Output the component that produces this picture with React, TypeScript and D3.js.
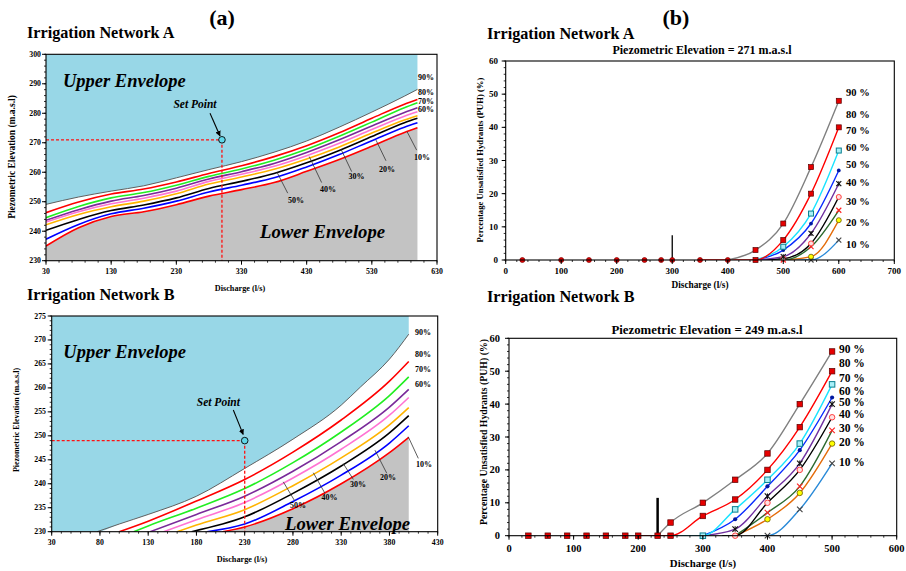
import React from "react";
import * as d3 from "d3";

type Pt = [number, number];

const FONT = "'Liberation Serif','Times New Roman',serif";
const PCT = ["90", "80", "70", "60", "50", "40", "30", "20", "10"];

// ---------- (a) Network A : piezometric elevation vs discharge ----------
const aQ = [30, 80, 130, 180, 230, 280, 330, 380, 430, 480, 530, 580, 600];
const aH90 = [249.1, 251.6, 253.6, 255.4, 258.1, 260.9, 263.6, 266.8, 270.6, 275.3, 280.4, 285.8, 288.1];
const aH80 = [246.3, 249.9, 252.6, 254.3, 256.7, 259.6, 262.2, 265.3, 269.0, 273.4, 278.3, 283.1, 284.7];
const aH70 = [244.6, 248.4, 251.3, 253.1, 255.6, 258.6, 261.1, 264.1, 267.8, 272.2, 277.0, 281.9, 283.6];
const aH60 = [243.7, 247.3, 250.2, 252.1, 254.6, 257.7, 260.2, 263.0, 266.7, 271.0, 275.7, 280.3, 281.9];
const aH50 = [243.1, 246.6, 249.3, 251.2, 253.6, 256.9, 259.3, 262.0, 265.6, 269.8, 274.5, 279.0, 280.5];
const aH40 = [242.2, 245.7, 248.3, 250.2, 252.7, 256.0, 258.4, 261.0, 264.5, 268.6, 273.3, 277.7, 279.2];
const aH30 = [240.3, 244.0, 247.0, 248.9, 251.3, 254.5, 256.9, 259.6, 263.2, 267.4, 272.1, 276.8, 278.3];
const aH20 = [237.3, 242.3, 245.9, 247.8, 250.2, 253.3, 255.6, 258.1, 261.8, 266.0, 270.7, 275.3, 276.8];
const aH10 = [235.0, 241.2, 245.0, 246.6, 249.0, 251.9, 254.1, 256.5, 260.3, 264.3, 268.8, 273.5, 275.1];
const aSetPoint: Pt = [300, 271];

// ---------- (a) Network B ----------
const bH90: Pt[] = [[77, 230], [100, 231.6], [130, 233.6], [180, 237.4], [230, 243.2], [280, 249.3], [330, 256.4], [350, 260.2], [380, 266.0], [400, 271.2]];
const bH80: Pt[] = [[100, 230], [130, 232.2], [180, 236.4], [230, 240.9], [280, 246.6], [330, 253.3], [380, 261.4], [400, 265.5]];
const bH70: Pt[] = [[115, 230], [130, 231.2], [180, 234.9], [230, 239.0], [280, 244.4], [330, 250.8], [380, 258.4], [400, 262.3]];
const bH60: Pt[] = [[132, 230], [180, 233.6], [230, 237.4], [280, 242.6], [330, 248.8], [380, 256.0], [400, 259.7]];
const bH50: Pt[] = [[146, 230], [180, 232.5], [230, 236.1], [280, 241.2], [330, 247.2], [380, 254.3], [400, 258.0]];
const bH40: Pt[] = [[160, 230], [180, 231.4], [230, 234.6], [280, 239.6], [330, 245.4], [380, 252.3], [400, 255.9]];
const bH30: Pt[] = [[175, 230], [230, 233.1], [280, 238.0], [330, 243.7], [380, 250.6], [400, 254.2]];
const bH20: Pt[] = [[191, 230], [230, 231.6], [280, 236.3], [330, 241.8], [380, 248.5], [400, 252.1]];
const bH10: Pt[] = [[207, 230], [230, 231.0], [280, 234.8], [330, 240.0], [380, 246.5], [400, 249.7]];
const bSetPoint: Pt = [230, 249];

// ---------- (b) PUH curves, Network A (first point = start on zero line) ----------
const puhA90: Pt[] = [[400, 0], [450, 3], [500, 11], [550, 28], [600, 48]];
const puhA80: Pt[] = [[350, 0], [450, 0], [500, 6], [550, 20], [600, 40]];
const puhA70: Pt[] = [[450, 0], [500, 4], [550, 14], [600, 33]];
const puhA60: Pt[] = [[450, 0], [500, 3], [550, 11], [600, 27]];
const puhA50: Pt[] = [[450, 0], [500, 1], [550, 8], [600, 23]];
const puhA40: Pt[] = [[450, 0], [500, 0.4], [550, 5], [600, 19]];
const puhA30: Pt[] = [[450, 0], [500, 0], [550, 4], [600, 15]];
const puhA20: Pt[] = [[500, 0], [550, 1], [600, 12]];
const puhA10: Pt[] = [[500, 0], [550, 0], [600, 6]];
const zeroA = [30, 100, 150, 200, 250, 280, 300, 350, 400];
const barA: Pt = [300, 7.5];

// ---------- (b) PUH curves, Network B ----------
const puhB90: Pt[] = [[230, 0], [250, 4], [300, 10], [350, 17], [400, 25], [450, 40], [500, 56]];
const puhB80: Pt[] = [[200, 0], [250, 0], [300, 6], [350, 11], [400, 20], [450, 33], [500, 50]];
const puhB70: Pt[] = [[250, 0], [300, 0], [350, 8], [400, 17], [450, 28], [500, 46]];
const puhB60: Pt[] = [[300, 0], [350, 5], [400, 15], [450, 26], [500, 42]];
const puhB50: Pt[] = [[300, 0], [350, 2], [400, 12], [450, 22], [500, 40]];
const puhB40: Pt[] = [[330, 0], [350, 0], [400, 10], [450, 20], [500, 36]];
const puhB30: Pt[] = [[350, 0], [400, 7], [450, 15], [500, 32]];
const puhB20: Pt[] = [[350, 0], [400, 5], [450, 13], [500, 28]];
const puhB10: Pt[] = [[390, 0], [400, 0], [450, 8], [500, 22]];
const zeroB = [30, 60, 90, 120, 150, 180, 200, 230];
const barB: Pt = [230, 11.5];

// ---------- ticks ----------
const aXTicks = [30, 130, 230, 330, 430, 530, 630];
const aYTicks = [230, 240, 250, 260, 270, 280, 290, 300];
const bXTicks = [30, 80, 130, 180, 230, 280, 330, 380, 430];
const bYTicks = [230, 235, 240, 245, 250, 255, 260, 265, 270, 275];
const rAXTicks = [0, 100, 200, 300, 400, 500, 600, 700];
const rBXTicks = [0, 100, 200, 300, 400, 500, 600];
const rYTicks = [0, 10, 20, 30, 40, 50, 60];

const BLUE = "#98d7e7";
const GRAY = "#c3c3c3";
const ENV_COLORS = ["#5f5f5f", "#ff0000", "#22ee22", "#7a2a9a", "#ff74d4", "#ffb400", "#000000", "#0000ff", "#ff0000"];
const PUH_STYLE = [
  { c: "#808080", m: "sqRed" },
  { c: "#ff0000", m: "sqRed" },
  { c: "#19e3ff", m: "sqCyan" },
  { c: "#0a2cff", m: "dotBlue" },
  { c: "#7030a0", m: "xBlack" },
  { c: "#000000", m: "circPink" },
  { c: "#2e6b30", m: "xRed" },
  { c: "#e46c0a", m: "circYellow" },
  { c: "#2a8ad8", m: "xDark" },
];

function Axes(p: any) {
  const { x, y, xMajor, xMinorStep, yMajor, yMinorStep, fs, xLabBase, yLabRight } = p;
  const [x0, x1] = x.range();
  const [yb, yt] = y.range();
  const [dx0, dx1] = x.domain();
  const [dy0, dy1] = y.domain();
  const xMinor = d3.range(dx0, dx1 + 1e-9, xMinorStep);
  const yMinor = d3.range(dy0, dy1 + 1e-9, yMinorStep);
  return (
    <g fontFamily={FONT} fontWeight="bold" fontSize={fs} fill="#000">
      <rect x={x0} y={yt} width={x1 - x0} height={yb - yt} fill="none" stroke="#000" strokeWidth={1.1} />
      {xMinor.map((v: number) => (
        <line key={"xm" + v} x1={x(v)} x2={x(v)} y1={yb} y2={yb + 2} stroke="#000" strokeWidth={0.8} />
      ))}
      {yMinor.map((v: number) => (
        <line key={"ym" + v} x1={x0 - 2} x2={x0} y1={y(v)} y2={y(v)} stroke="#000" strokeWidth={0.8} />
      ))}
      {xMajor.map((v: number) => (
        <g key={"x" + v}>
          <line x1={x(v)} x2={x(v)} y1={yb} y2={yb + 4} stroke="#000" strokeWidth={1} />
          <text x={x(v)} y={xLabBase} textAnchor="middle">{v}</text>
        </g>
      ))}
      {yMajor.map((v: number) => (
        <g key={"y" + v}>
          <line x1={x0 - 4} x2={x0} y1={y(v)} y2={y(v)} stroke="#000" strokeWidth={1} />
          <text x={yLabRight} y={y(v)} textAnchor="end" dominantBaseline="central">{v}</text>
        </g>
      ))}
    </g>
  );
}

function EnvPanel(p: any) {
  const { id, x, y, curves, upperFill, setPt, ann, lblFs } = p;
  const [x0, x1] = x.range();
  const [yb, yt] = y.range();
  const line = d3.line<Pt>().x((d) => x(d[0])).y((d) => y(d[1])).curve(d3.curveMonotoneX);
  const areaUp = d3.area<Pt>().x((d) => x(d[0])).y0(yt).y1((d) => y(d[1])).curve(d3.curveMonotoneX);
  const areaLo = d3.area<Pt>().x((d) => x(d[0])).y0(yb).y1((d) => y(d[1])).curve(d3.curveMonotoneX);
  const [dx0] = x.domain();
  const [dy0] = y.domain();
  return (
    <g>
      <defs>
        <clipPath id={id}>
          <rect x={x0} y={yt} width={x1 - x0} height={yb - yt} />
        </clipPath>
      </defs>
      <g clipPath={`url(#${id})`}>
        <path d={areaUp(upperFill) || ""} fill={BLUE} />
        <path d={areaLo(curves[8]) || ""} fill={GRAY} />
        {curves.map((c: Pt[], i: number) => (
          <path key={i} d={line(c) || ""} fill="none" stroke={ENV_COLORS[i]} strokeWidth={i === 0 ? 1 : 1.6} />
        ))}
        <line x1={x(dx0)} x2={x(setPt[0])} y1={y(setPt[1])} y2={y(setPt[1])} stroke="#ff1010" strokeWidth={1.3} strokeDasharray="3,2" />
        <line x1={x(setPt[0])} x2={x(setPt[0])} y1={y(setPt[1])} y2={y(dy0)} stroke="#ff1010" strokeWidth={1.3} strokeDasharray="3,2" />
      </g>
      <circle cx={x(setPt[0])} cy={y(setPt[1])} r={3.3} fill="#5fd8ea" stroke="#000" strokeWidth={0.9} />
      <line x1={x(ann.arrow[0][0])} y1={y(ann.arrow[0][1])} x2={x(ann.arrow[1][0])} y2={y(ann.arrow[1][1])} stroke="#000" strokeWidth={1.1} markerEnd="url(#arrowHead)" />
      <g fontFamily={FONT} fontWeight="bold" fontStyle="italic" fill="#000">
        <text x={x(ann.setLbl[0])} y={y(ann.setLbl[1])} textAnchor="middle" fontSize={11.5}>Set Point</text>
        <text x={x(ann.upper[0])} y={y(ann.upper[1])} fontSize={18.5}>Upper Envelope</text>
        <text x={x(ann.lower[0])} y={y(ann.lower[1])} fontSize={18.7}>Lower Envelope</text>
      </g>
      <g fontFamily={FONT} fontWeight="bold" fontSize={lblFs} fill="#000">
        {ann.top.map((t: Pt, i: number) => (
          <text key={"t" + i} x={x(t[0])} y={y(t[1])} dominantBaseline="central">{PCT[i] + "%"}</text>
        ))}
        {ann.lead.map((l: any, i: number) => (
          <g key={"l" + i}>
            <line x1={x(l[0][0])} y1={y(l[0][1])} x2={x(l[1][0])} y2={y(l[1][1])} stroke="#333" strokeWidth={0.8} />
            <text x={x(l[2][0])} y={y(l[2][1])} textAnchor="middle" dominantBaseline="central">{PCT[8 - i] + "%"}</text>
          </g>
        ))}
      </g>
    </g>
  );
}

function Marker({ t, cx, cy, s }: any) {
  const h = s / 2;
  switch (t) {
    case "sqRed":
      return <rect x={cx - h} y={cy - h} width={s} height={s} fill="#e60000" stroke="#5a0000" strokeWidth={0.7} />;
    case "sqCyan":
      return <rect x={cx - h} y={cy - h} width={s} height={s} fill="#a8f0f8" stroke="#0a7f8f" strokeWidth={1} />;
    case "dotBlue":
      return <circle cx={cx} cy={cy} r={h * 0.75} fill="#0018a0" />;
    case "circPink":
      return <circle cx={cx} cy={cy} r={h} fill="#ffe0e0" stroke="#ff4040" strokeWidth={1} />;
    case "circYellow":
      return <circle cx={cx} cy={cy} r={h} fill="#ffff00" stroke="#6a5a00" strokeWidth={0.8} />;
    case "circRed":
      return <circle cx={cx} cy={cy} r={h} fill="#e60000" stroke="#7a0000" strokeWidth={0.7} />;
    default: {
      const col = t === "xRed" ? "#ff2020" : t === "xBlack" ? "#111" : "#444";
      return (
        <g stroke={col} strokeWidth={1.1}>
          <line x1={cx - h} y1={cy - h} x2={cx + h} y2={cy + h} />
          <line x1={cx - h} y1={cy + h} x2={cx + h} y2={cy - h} />
          {t === "xBlack" && <line x1={cx} y1={cy - h} x2={cx} y2={cy + h} />}
        </g>
      );
    }
  }
}

function PuhPanel(p: any) {
  const { id, x, y, series, zeros, zeroMk, bar, barW, mk, lblFs, lblX, lblY } = p;
  const [x0, x1] = x.range();
  const [yb, yt] = y.range();
  const line = d3.line<Pt>().x((d) => x(d[0])).y((d) => y(d[1])).curve(d3.curveMonotoneX);
  const order = [8, 7, 6, 5, 4, 3, 2, 1, 0];
  return (
    <g>
      <defs>
        <clipPath id={id}>
          <rect x={x0} y={yt} width={x1 - x0} height={yb - yt} />
        </clipPath>
      </defs>
      <line x1={x(bar[0])} x2={x(bar[0])} y1={y(0)} y2={y(bar[1])} stroke="#000" strokeWidth={barW} />
      <g clipPath={`url(#${id})`}>
        {order.map((i) => (
          <path key={"s" + i} d={line(series[i]) || ""} fill="none" stroke={PUH_STYLE[i].c} strokeWidth={1.4} />
        ))}
      </g>
      {zeros.map((q: number) => (
        <Marker key={"z" + q} t={zeroMk} cx={x(q)} cy={y(0)} s={mk} />
      ))}
      {order.map((i) =>
        series[i].slice(1).map((d: Pt, j: number) => (
          <Marker key={"m" + i + "-" + j} t={PUH_STYLE[i].m} cx={x(d[0])} cy={y(d[1])} s={mk} />
        ))
      )}
      <g fontFamily={FONT} fontWeight="bold" fontSize={lblFs} fill="#000">
        {lblY.map((v: number, i: number) => (
          <text key={"p" + i} x={x(lblX)} y={y(v)} dominantBaseline="central">{PCT[i] + " %"}</text>
        ))}
      </g>
    </g>
  );
}

export default function App() {
  const xa = d3.scaleLinear().domain([30, 630]).range([46, 437]);
  const ya = d3.scaleLinear().domain([230, 300]).range([260.7, 54.3]);
  const xb = d3.scaleLinear().domain([30, 430]).range([51.7, 437.7]);
  const yb = d3.scaleLinear().domain([230, 275]).range([531.7, 316]);
  const xra = d3.scaleLinear().domain([0, 700]).range([505.7, 894.3]);
  const yra = d3.scaleLinear().domain([0, 60]).range([260, 61]);
  const xrb = d3.scaleLinear().domain([0, 600]).range([509, 896.7]);
  const yrb = d3.scaleLinear().domain([0, 60]).range([535.7, 338.3]);

  const aCurves: Pt[][] = [aH90, aH80, aH70, aH60, aH50, aH40, aH30, aH20, aH10].map((h) =>
    h.map((v, i) => [aQ[i], v] as Pt)
  );
  const bCurves: Pt[][] = [bH90, bH80, bH70, bH60, bH50, bH40, bH30, bH20, bH10];
  const bUpperFill: Pt[] = [[30, 230], ...bH90];

  const annA = {
    arrow: [[281.7, 280.0], [297, 272.3]],
    setLbl: [258.6, 281.8],
    upper: [56, 289],
    lower: [358.4, 237.6],
    top: [[601, 292], [601, 287], [601, 283.9], [601, 281.4]],
    lead: [
      [[584, 273.8], [598.8, 267.5], [607, 264.9]],
      [[536.4, 270.9], [551.7, 263.9], [553.3, 260.8]],
      [[482.7, 267.8], [499.1, 260.2], [506.5, 258.4]],
      [[434, 265.3], [453, 256.5], [462.7, 254.3]],
      [[384.5, 260.0], [400.9, 252.9], [413.6, 250.3]],
    ],
  };
  const annB = {
    arrow: [[218.2, 255.4], [228.4, 250.3]],
    setLbl: [202.7, 256.3],
    upper: [42, 266.2],
    lower: [271.8, 230.4],
    top: [[406.5, 271.5], [406.5, 266.9], [406.5, 263.9], [406.5, 260.8]],
    lead: [
      [[399.5, 249.8], [409.9, 245.3], [415.8, 244.1]],
      [[365, 247.0], [377.2, 242.2], [378.5, 241.4]],
      [[332.2, 244.2], [342.6, 240.9], [347.4, 239.9]],
      [[301.1, 242.3], [313.2, 238.0], [317.9, 237.2]],
      [[270, 240.4], [281.6, 236.5], [285.2, 235.4]],
    ],
  };

  const puhA = [puhA90, puhA80, puhA70, puhA60, puhA50, puhA40, puhA30, puhA20, puhA10];
  const puhB = [puhB90, puhB80, puhB70, puhB60, puhB50, puhB40, puhB30, puhB20, puhB10];

  return (
    <svg width={906} height={571} style={{ position: "absolute", left: 0, top: 0, background: "#fff" }} fontFamily={FONT}>
      <defs>
        <marker id="arrowHead" viewBox="0 0 10 10" refX="9" refY="5" markerWidth="5" markerHeight="5" orient="auto">
          <path d="M0,0 L10,5 L0,10 z" fill="#000" />
        </marker>
      </defs>
      <rect x={0} y={0} width={906} height={571} fill="#fff" />

      <g fontWeight="bold" fill="#000">
        <text x={222} y={25} textAnchor="middle" fontSize={22}>(a)</text>
        <text x={676} y={25} textAnchor="middle" fontSize={22}>(b)</text>
        <text x={27} y={38} fontSize={16.2}>Irrigation Network A</text>
        <text x={487} y={39} fontSize={16.2}>Irrigation Network A</text>
        <text x={27} y={300} fontSize={16.2}>Irrigation Network B</text>
        <text x={487} y={302} fontSize={16.2}>Irrigation Network B</text>
        <text x={702} y={54} textAnchor="middle" fontSize={12}>Piezometric Elevation = 271 m.a.s.l</text>
        <text x={707} y={333.5} textAnchor="middle" fontSize={12.8}>Piezometric Elevation = 249 m.a.s.l</text>
        <text x={240} y={290.5} textAnchor="middle" fontSize={8.2}>Discharge (l/s)</text>
        <text x={242} y={562} textAnchor="middle" fontSize={8.2}>Discharge (l/s)</text>
        <text x={700} y={287.5} textAnchor="middle" fontSize={9.3}>Discharge (l/s)</text>
        <text x={703} y={566.5} textAnchor="middle" fontSize={10.8}>Discharge (l/s)</text>
        <text transform="translate(12,157) rotate(-90)" textAnchor="middle" dominantBaseline="central" fontSize={9.5}>Piezometric Elevation (m.a.s.l)</text>
        <text transform="translate(16.5,420) rotate(-90)" textAnchor="middle" dominantBaseline="central" fontSize={8}>Piezometric Elevation (m.a.s.l)</text>
        <text transform="translate(479.5,160) rotate(-90)" textAnchor="middle" dominantBaseline="central" fontSize={8.7}>Percentage Unsatisfied Hydrants (PUH) (%)</text>
        <text transform="translate(483.5,432) rotate(-90)" textAnchor="middle" dominantBaseline="central" fontSize={9.8}>Percentage Unsatisfied Hydrants (PUH) (%)</text>
      </g>

      <EnvPanel id="clipA" x={xa} y={ya} curves={aCurves} upperFill={aCurves[0]} setPt={aSetPoint} ann={annA} lblFs={8} />
      <Axes x={xa} y={ya} xMajor={aXTicks} xMinorStep={20} yMajor={aYTicks} yMinorStep={2} fs={7.8} xLabBase={273.5} yLabRight={41} />

      <EnvPanel id="clipB" x={xb} y={yb} curves={bCurves} upperFill={bUpperFill} setPt={bSetPoint} ann={annB} lblFs={8} />
      <Axes x={xb} y={yb} xMajor={bXTicks} xMinorStep={10} yMajor={bYTicks} yMinorStep={1} fs={7.8} xLabBase={544.5} yLabRight={46} />

      <PuhPanel id="clipRA" x={xra} y={yra} series={puhA} zeros={zeroA} zeroMk="circRed" bar={barA} barW={1.3} mk={5}
        lblFs={10.5} lblX={613} lblY={[50.4, 43.9, 38.9, 33.9, 28.9, 23.5, 17.6, 11.4, 4.7]} />
      <Axes x={xra} y={yra} xMajor={rAXTicks} xMinorStep={20} yMajor={rYTicks} yMinorStep={2} fs={9} xLabBase={273.5} yLabRight={498} />

      <PuhPanel id="clipRB" x={xrb} y={yrb} series={puhB} zeros={zeroB} zeroMk="sqRed" bar={barB} barW={2.5} mk={5.5}
        lblFs={11.5} lblX={510.7} lblY={[56.7, 52.5, 47.8, 44.0, 40.5, 36.9, 32.6, 28.4, 22.5]} />
      <Axes x={xrb} y={yrb} xMajor={rBXTicks} xMinorStep={20} yMajor={rYTicks} yMinorStep={2} fs={10.5} xLabBase={552} yLabRight={500} />
    </svg>
  );
}
